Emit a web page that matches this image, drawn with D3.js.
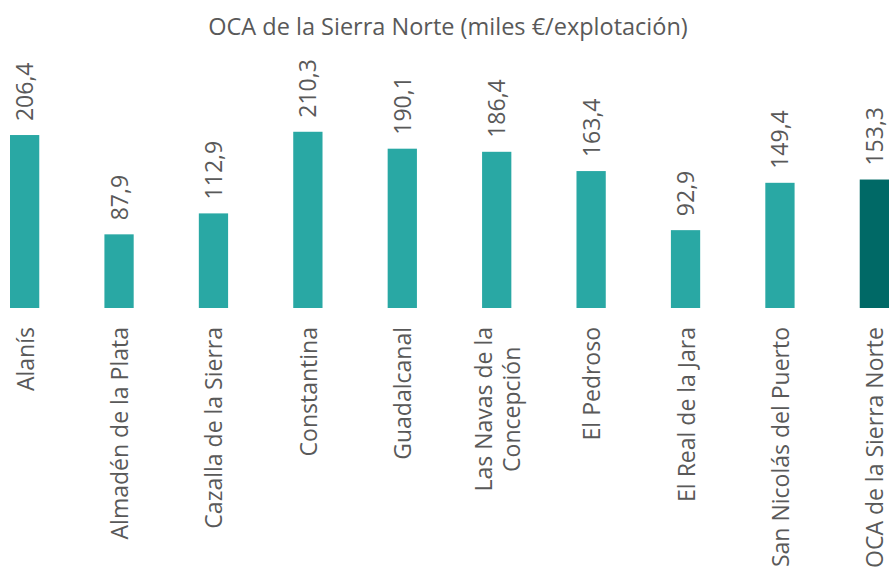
<!DOCTYPE html>
<html>
<head>
<meta charset="utf-8">
<script src="https://cdn.jsdelivr.net/npm/d3@7"></script>
<style>
  body { margin: 0; background: #fff; }
  text { font-family: "Open Sans", sans-serif; fill: #595959; }
</style>
</head>
<body>
<div id="chart"></div>
<script>
// datos
const municipios = ["Alanís", "Almadén de la Plata", "Cazalla de la Sierra", "Constantina",
  "Guadalcanal", "Las Navas de la Concepción", "El Pedroso", "El Real de la Jara",
  "San Nicolás del Puerto", "OCA de la Sierra Norte"];
const valores = [206.4, 87.9, 112.9, 210.3, 190.1, 186.4, 163.4, 92.9, 149.4, 153.3];
// etiquetas de varias líneas
const lineas = {"Las Navas de la Concepción": ["Las Navas de la", "Concepción"]};
const titulo = "OCA de la Sierra Norte (miles €/explotación)";

const width = 890, height = 575;
const base = 308;
const fs = 23;

const data = municipios.map((m, i) => ({ nombre: m, valor: valores[i] }));

const svg = d3.select("#chart").append("svg")
    .attr("width", width)
    .attr("height", height);

const x = d3.scaleBand()
    .domain(municipios)
    .range([10, 889])
    .paddingInner(0.69)
    .paddingOuter(0);

const y = d3.scaleLinear()
    .domain([0, 100])
    .range([base, base - 83.8]);

svg.append("text")
    .attr("x", 448)
    .attr("y", 35)
    .attr("text-anchor", "middle")
    .style("font-size", "23.5px")
    .text(titulo);

svg.selectAll(".bar")
    .data(data)
  .enter().append("rect")
    .attr("class", "bar")
    .attr("x", d => x(d.nombre))
    .attr("width", x.bandwidth())
    .attr("y", d => y(d.valor))
    .attr("height", d => base - y(d.valor))
    .attr("fill", (d, i) => i === data.length - 1 ? "#006966" : "#29a8a4");

// valores encima de las barras
svg.selectAll(".valor")
    .data(data)
  .enter().append("text")
    .attr("class", "valor")
    .attr("transform", d => "translate(" + (x(d.nombre) + x.bandwidth() / 2 + 8.5) + "," + (y(d.valor) - 14) + ") rotate(-90)")
    .style("font-size", fs + "px")
    .text(d => d3.format(".1f")(d.valor).replace(".", ","));

// etiquetas de categoría
const cat = svg.selectAll(".cat")
    .data(data)
  .enter().append("text")
    .attr("class", "cat")
    .style("font-size", fs + "px")
    .attr("transform", d => {
      const n = (lineas[d.nombre] || [d.nombre]).length;
      const cx = x(d.nombre) + x.bandwidth() / 2 + 9 - (n - 1) * 14;
      return "translate(" + cx + "," + (base + 19) + ") rotate(-90)";
    });

cat.each(function(d) {
  const t = d3.select(this);
  const ls = lineas[d.nombre] || [d.nombre];
  const spans = ls.map((l, i) => t.append("tspan")
      .attr("dy", i === 0 ? 0 : 28)
      .text(l));
  // centrar las líneas respecto a la más larga
  const w = d3.max(spans, s => s.node().getComputedTextLength());
  spans.forEach(s => s.attr("x", -w / 2).attr("text-anchor", "middle"));
});
</script>
</body>
</html>
